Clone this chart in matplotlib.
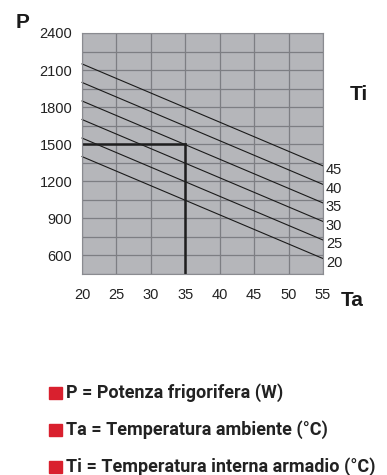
import matplotlib.pyplot as plt
import numpy as np

# Ti curves: cooling power (W) at Ta = 20 and Ta = 55
ti_labels = ["20", "25", "30", "35", "40", "45"]
p_at_20 = [1400, 1550, 1700, 1850, 2000, 2150]
p_at_55 = [575, 725, 875, 1025, 1175, 1325]
ta_range = [20, 55]

# example reading
ex_ta = 35
ex_p = 1500

x_ticks = [20, 25, 30, 35, 40, 45, 50, 55]
y_ticks = [600, 900, 1200, 1500, 1800, 2100, 2400]

legend_items = [
    "P = Potenza frigorifera (W)",
    "Ta = Temperatura ambiente (°C)",
    "Ti = Temperatura interna armadio (°C)",
]

fig = plt.figure(figsize=(3.87, 4.75), dpi=100)
ax = fig.add_axes([82 / 387, 201 / 475, 241 / 387, 241 / 475])
ax.set_facecolor("#b5b6ba")

ax.set_xlim(20, 55)
ax.set_ylim(450, 2400)
ax.set_xticks(x_ticks)
ax.set_yticks(y_ticks)
ax.set_yticks(np.arange(450, 2401, 150), minor=True)
ax.grid(True, which="both", color="#7d7e83", linewidth=0.9)
ax.set_axisbelow(True)
ax.tick_params(which="both", length=0, labelsize=10.5, colors="#222222")
ax.tick_params(axis="x", pad=10)
ax.tick_params(axis="y", pad=7)
for lab in ax.get_xticklabels() + ax.get_yticklabels():
    lab.set_family("Liberation Sans")
for s in ax.spines.values():
    s.set_color("#8a8b90")
    s.set_linewidth(0.8)

for lo, hi, lab in zip(p_at_20, p_at_55, ti_labels):
    ax.plot(ta_range, [lo, hi], color="#1a1a1a", linewidth=0.8, clip_on=False)
    ax.annotate(lab, (ta_range[1], hi), xytext=(2, -3), textcoords="offset points",
                ha="left", va="center", fontsize=10.5, family="Liberation Sans",
                color="#222222", annotation_clip=False)

ax.plot([ta_range[0], ex_ta], [ex_p, ex_p], color="#1e1e1e", linewidth=1.8)
ax.plot([ex_ta, ex_ta], [ex_p, 450], color="#1e1e1e", linewidth=1.8)

fig.text(16 / 387, 1 - 23 / 475, "P", fontsize=15, fontweight="bold",
         family="Liberation Sans", color="#1a1a1a", va="center")
fig.text(350 / 387, 1 - 95 / 475, "Ti", fontsize=15, fontweight="bold",
         family="Liberation Sans", color="#1a1a1a", va="center")
fig.text(341 / 387, 1 - 301 / 475, "Ta", fontsize=15, fontweight="bold",
         family="Liberation Sans", color="#1a1a1a", va="center")

rows_y = [393, 430, 467]
for yy, txt in zip(rows_y, legend_items):
    fig.patches.append(plt.Rectangle((49 / 387, 1 - (yy + 6) / 475), 13 / 387, 12 / 475,
                                     transform=fig.transFigure, color="#d9202e"))
    fig.text(66 / 387, 1 - yy / 475, txt, fontsize=13, fontweight="bold",
             family="Roboto", color="#222222", va="center")

fig.savefig("out.png", dpi=100)
